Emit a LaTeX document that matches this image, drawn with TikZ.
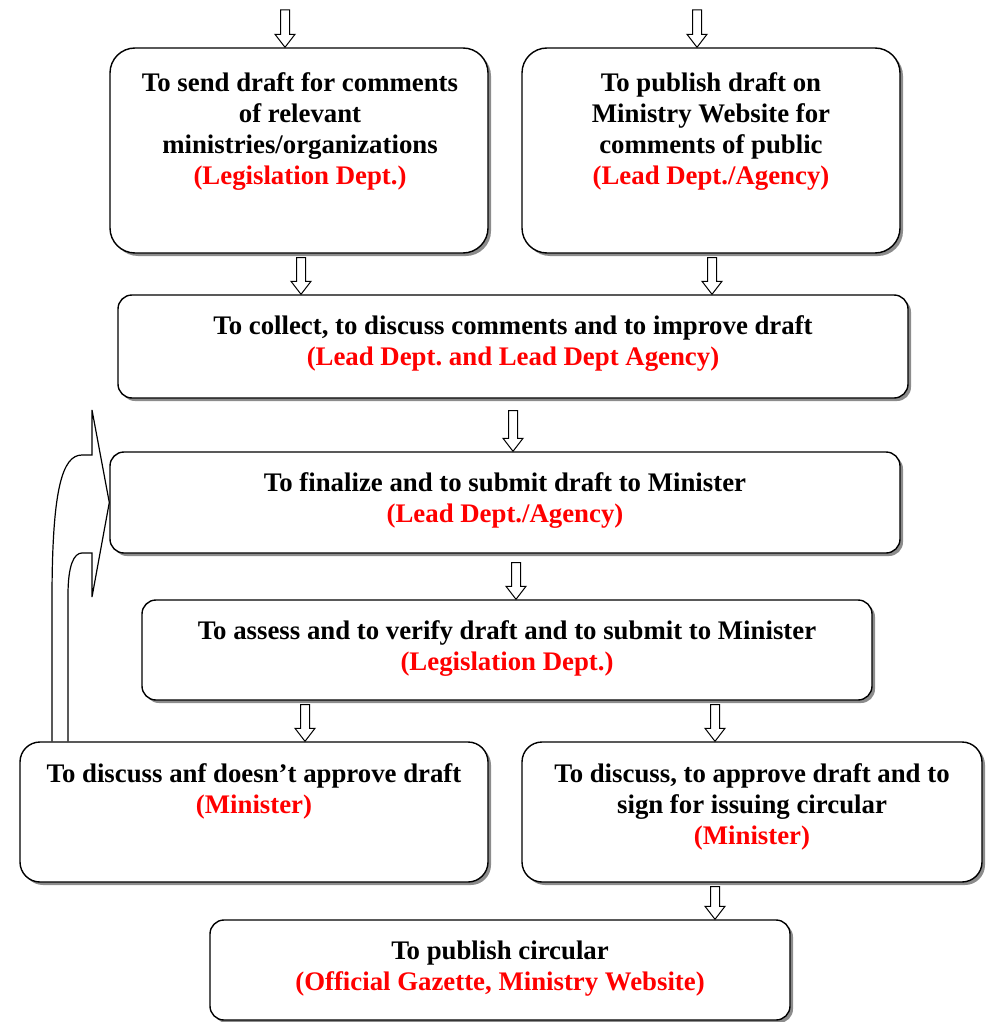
\documentclass[tikz,border=0pt]{standalone}
\usepackage{fontspec}
\setmainfont{Liberation Serif}
\usetikzlibrary{shadows,calc}
\frenchspacing
\begin{document}
\begin{tikzpicture}[x=1pt,y=-1pt,
  box/.style={draw, line width=1.4pt, fill=white, inner sep=0pt,
    general shadow={fill=black!45, shadow xshift=3pt, shadow yshift=-3pt}},
  lbl/.style={anchor=north, align=center, inner sep=0pt,
    font=\fontsize{26.8}{31}\selectfont\bfseries},
  blockarrow/.style={draw, line width=1pt, fill=white, to path={
    let \p1=(\tikztostart), \p2=(\tikztotarget) in
    (\x1-4.5pt,\y1) -- (\x1+4.5pt,\y1) -- (\x1+4.5pt,\y2+13pt) -- (\x1+10pt,\y2+13pt)
    -- (\x1,\y2) -- (\x1-10pt,\y2+13pt) -- (\x1-4.5pt,\y2+13pt) -- cycle}}]
\useasboundingbox (0,0) rectangle (987,1022);

% boxes
\node[box, rounded corners=25pt, minimum width=378pt, minimum height=205pt] (b1) at (299,150.5) {};
\node[box, rounded corners=25pt, minimum width=378pt, minimum height=205pt] (b2) at (711,150.5) {};
\node[box, rounded corners=14pt, minimum width=790pt, minimum height=103pt] (b3) at (513,346.5) {};
\node[box, rounded corners=14pt, minimum width=790pt, minimum height=101pt] (b4) at (505,502.5) {};
\node[box, rounded corners=14pt, minimum width=730pt, minimum height=100pt] (b5) at (507,650) {};
\node[box, rounded corners=20pt, minimum width=468pt, minimum height=140pt] (b6) at (254,812) {};
\node[box, rounded corners=20pt, minimum width=460pt, minimum height=140pt] (b7) at (752,812) {};
\node[box, rounded corners=14pt, minimum width=580pt, minimum height=100pt] (b8) at (500,970) {};

% texts
\node[lbl] (t1) at ($(b1.north)+(1,25)$) {To send draft for comments\\of relevant\\ministries/organizations\\\textcolor{red}{(Legislation Dept.)}};
\node[lbl] (t2) at ($(b2.north)+(0,25)$) {To publish draft on\\Ministry Website for\\comments of public\\\textcolor{red}{(Lead Dept./Agency)}};
\node[lbl] (t3) at ($(b3.north)+(0,21)$) {To collect, to discuss comments and to improve draft\\\textcolor{red}{(Lead Dept. and Lead Dept Agency)}};
\node[lbl] (t4) at ($(b4.north)+(0,21)$) {To finalize and to submit draft to Minister\\\textcolor{red}{(Lead Dept./Agency)}};
\node[lbl] (t5) at ($(b5.north)+(0,21)$) {To assess and to verify draft and to submit to Minister\\\textcolor{red}{(Legislation Dept.)}};
\node[lbl] (t6) at ($(b6.north)+(0,22)$) {To discuss anf doesn’t approve draft\\\textcolor{red}{(Minister)}};
\node[lbl] (t7) at ($(b7.north)+(0,22)$) {To discuss, to approve draft and to\\sign for issuing circular\\\textcolor{red}{(Minister)}};
\node[lbl] (t8) at ($(b8.north)+(0,21)$) {To publish circular\\\textcolor{red}{(Official Gazette, Ministry Website)}};

% arrow columns
\coordinate (in1) at (285,10);
\coordinate (in2) at (697,10);
\coordinate (c1) at (301,0);
\coordinate (c2) at (712,0);
\coordinate (c3) at (513,0);
\coordinate (c4) at (516,0);
\coordinate (c5) at (305,0);
\coordinate (c6) at (715,0);

\path (in1) edge[blockarrow] (in1 |- b1.north);
\path (in2) edge[blockarrow] (in2 |- b2.north);
\path ($(c1 |- b1.south)+(0,4)$) edge[blockarrow] (c1 |- b3.north);
\path ($(c2 |- b2.south)+(0,4)$) edge[blockarrow] (c2 |- b3.north);
\path ($(c3 |- b3.south)+(0,12)$) edge[blockarrow] (c3 |- b4.north);
\path ($(c4 |- b4.south)+(0,9)$) edge[blockarrow] (c4 |- b5.north);
\path ($(c5 |- b5.south)+(0,4)$) edge[blockarrow] (c5 |- b6.north);
\path ($(c6 |- b5.south)+(0,4)$) edge[blockarrow] (c6 |- b7.north);
\path ($(c6 |- b7.south)+(0,4)$) edge[blockarrow] (c6 |- b8.north);

% return arrow from the rejection box back to the finalize step
\draw[line width=1.2pt, line join=miter]
  (52,0 |- b6.north) -- (52,600) .. controls (52,490) and (62,455) .. (82,455)
  -- (92,455) -- (92,410) -- (b4.west) -- (92,597) -- (92,553) -- (82,553)
  .. controls (74,553) and (68,565) .. (68,595) -- (68,0 |- b6.north);
\end{tikzpicture}
\end{document}
